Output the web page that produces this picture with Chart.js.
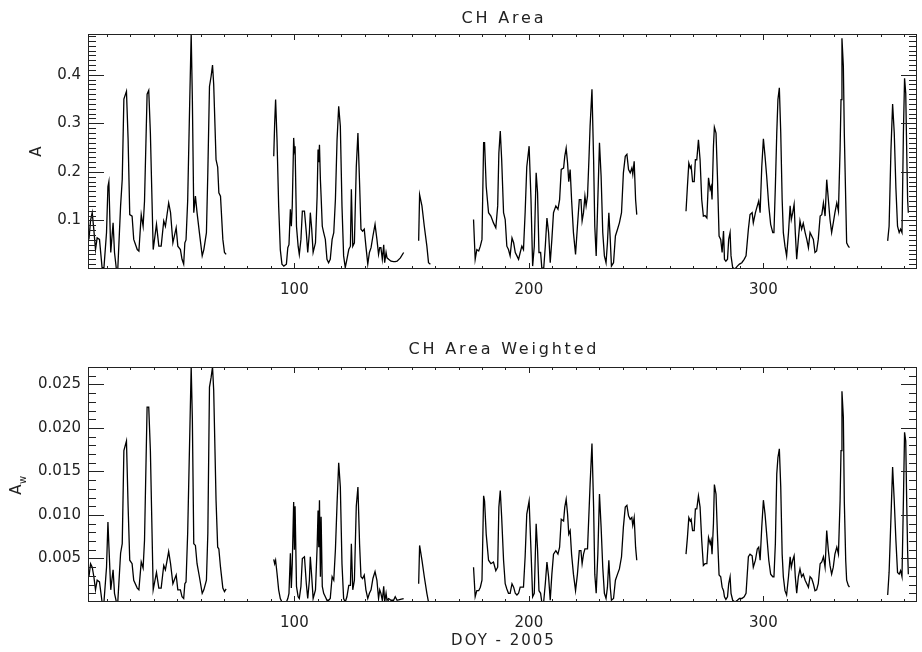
<!DOCTYPE html>
<html>
<head>
<meta charset="utf-8">
<script src="https://cdn.jsdelivr.net/npm/chart.js@4"></script>
<style>
  body { margin: 0; background: #fff; }
  #wrap { position: relative; width: 922px; height: 652px; }
  canvas { position: absolute; left: 0; }
</style>
</head>
<body>
<div id="wrap">
  <canvas id="areaChart" width="922" height="310" style="top:0"></canvas>
  <canvas id="weightChart" width="922" height="342" style="top:310px"></canvas>
</div>
<script>
// Day of year 2005; a null row marks each gap in the record
const days = [
  12.4,13.1,13.8,14.5,15.2,15.9,16.9,18.0,18.8,19.9,20.5,20.9,21.7,22.7,23.3,24.1,24.7,25.9,26.6,27.3,28.4,29.1,29.8,30.8,31.5,33.0,33.7,34.7,35.5,36.1,37.2,37.9,38.6,39.8,41.2,42.2,43.2,44.3,45.0,46.4,47.2,48.2,49.6,50.3,51.4,52.1,52.8,53.3,53.8,54.5,55.4,56.0,56.5,57.1,57.8,58.5,59.5,60.7,61.4,62.5,63.1,63.8,64.5,65.1,65.6,66.6,67.3,67.8,68.5,69.5,70.2,70.9,
  80,
  91.2,91.6,92.0,92.6,93.3,94.0,94.7,95.5,96.6,97.2,97.7,98.3,98.7,99.1,99.7,100.0,100.3,100.9,101.6,102.1,102.8,103.4,104.3,105.1,105.7,106.4,106.8,107.4,108.0,109.0,109.7,110.1,110.4,110.7,111.1,111.4,111.9,112.5,113.2,113.9,114.6,115.3,116.1,116.8,117.5,118.2,118.9,119.6,120.3,121.0,121.7,122.4,123.2,123.9,124.3,124.9,125.6,126.4,127.1,127.8,128.4,129.1,129.8,130.5,131.3,132.0,132.7,133.5,134.4,135.2,135.9,136.4,136.9,137.5,138.1,138.5,139.1,139.5,140.2,141.2,142.3,143.0,143.8,145.2,146.6,
  150,
  153.0,153.4,154.4,155.4,156.5,157.2,158.0,
  165,
  176.4,177.1,177.8,178.6,179.3,180.0,180.7,181.1,181.8,182.8,183.8,184.9,185.9,186.7,187.2,187.8,188.4,189.2,189.9,190.6,191.3,192.0,192.8,193.5,194.2,194.9,195.6,196.3,197.0,197.7,198.4,199.1,200.1,200.9,201.6,202.3,203.1,203.7,204.3,205.0,205.5,206.3,207.0,207.7,208.4,209.1,209.8,210.5,211.5,212.4,213.1,213.8,214.8,215.3,215.9,216.5,217.0,217.6,218.2,219.0,219.9,220.7,221.5,222.2,222.7,223.3,223.9,224.4,225.0,225.6,226.1,226.9,227.6,228.1,228.7,229.4,230.1,230.8,231.5,232.2,232.9,233.5,234.1,234.7,235.2,236.1,236.9,237.8,238.6,239.5,240.3,241.1,241.8,242.5,243.2,243.9,244.3,244.9,245.5,246.0,
  256,
  267.0,267.6,268.2,268.8,269.2,269.8,270.5,271.0,271.6,272.3,273.0,273.7,274.4,275.1,275.9,276.6,277.3,277.7,278.1,278.7,279.1,279.8,280.4,281.1,281.8,282.4,283.0,283.4,284.0,284.7,285.2,285.8,286.2,286.9,287.9,288.9,289.8,290.8,291.8,292.6,293.6,294.3,295.2,295.7,296.6,297.4,298.0,298.6,299.3,300.0,300.7,301.4,302.3,303.1,304.0,304.5,305.1,305.7,306.2,306.8,307.4,308.0,308.5,309.2,309.9,310.7,311.4,311.9,312.5,313.1,313.6,314.2,314.9,315.6,316.3,317.0,317.8,318.5,319.2,319.9,320.6,321.3,322.0,322.7,323.4,324.2,324.9,325.6,326.3,327.0,327.7,328.4,329.1,329.8,330.5,331.3,332.0,332.7,333.1,333.5,334.1,334.5,335.1,335.5,336.2,336.7,
  345,
  353.0,353.6,354.4,355.1,355.8,356.5,357.2,357.9,358.5,359.1,359.7,360.2,360.7,361.1,361.5,361.8
];

// CH area A
const area = [
  0.061,0.1,0.116,0.08,0.04,0.064,0.061,0.003,0.003,0.075,0.17,0.18,0.034,0.095,0.034,0,0,0.13,0.185,0.35,0.366,0.267,0.112,0.109,0.061,0.04,0.037,0.112,0.088,0.14,0.36,0.368,0.28,0.04,0.092,0.047,0.047,0.099,0.088,0.136,0.116,0.054,0.085,0.047,0.04,0.02,0.01,0.054,0.06,0.14,0.35,0.484,0.35,0.116,0.15,0.116,0.075,0.027,0.04,0.075,0.2,0.376,0.397,0.42,0.38,0.225,0.21,0.157,0.15,0.061,0.034,0.03,
  null,
  0.232,0.30,0.349,0.266,0.13,0.04,0.01,0.006,0.01,0.044,0.05,0.123,0.088,0.13,0.27,0.245,0.253,0.088,0.047,0.03,0.061,0.119,0.119,0.075,0.034,0.075,0.116,0.082,0.034,0.054,0.15,0.246,0.22,0.256,0.184,0.15,0.088,0.075,0.061,0.02,0.013,0.02,0.061,0.075,0.143,0.266,0.335,0.294,0.13,0.027,0.003,0.02,0.04,0.047,0.164,0.047,0.054,0.21,0.28,0.177,0.082,0.078,0.082,0.047,0.01,0.034,0.044,0.068,0.092,0.061,0.03,0.044,0.044,0.02,0.05,0.013,0.034,0.023,0.02,0.016,0.015,0.015,0.016,0.023,0.034,
  null,
  0.058,0.153,0.13,0.088,0.047,0.013,0.01,
  null,
  0.102,0.02,0.04,0.037,0.047,0.061,0.26,0.26,0.17,0.116,0.109,0.095,0.085,0.13,0.239,0.284,0.225,0.116,0.102,0.047,0.04,0.027,0.064,0.054,0.034,0.027,0.02,0.034,0.047,0.04,0.116,0.21,0.253,0.143,0.006,0.047,0.198,0.157,0.034,0.034,0.003,0,0.047,0.105,0.075,0.013,0.061,0.116,0.13,0.123,0.143,0.205,0.208,0.232,0.249,0.218,0.18,0.205,0.143,0.075,0.03,0.088,0.143,0.143,0.099,0.116,0.15,0.13,0.15,0.225,0.294,0.37,0.225,0.088,0.027,0.143,0.26,0.191,0.075,0.027,0.013,0.054,0.116,0.061,0.006,0.013,0.068,0.082,0.095,0.116,0.198,0.232,0.236,0.205,0.198,0.208,0.195,0.222,0.143,0.112,
  null,
  0.119,0.17,0.218,0.208,0.212,0.18,0.18,0.225,0.225,0.266,0.225,0.143,0.109,0.11,0.105,0.188,0.164,0.17,0.143,0.253,0.292,0.28,0.191,0.068,0.061,0.034,0.078,0.02,0.016,0.02,0.061,0.075,0.027,0.003,0,0.006,0.01,0.013,0.02,0.027,0.082,0.112,0.116,0.095,0.116,0.13,0.14,0.116,0.21,0.268,0.232,0.191,0.13,0.092,0.075,0.075,0.17,0.28,0.349,0.373,0.28,0.143,0.075,0.047,0.027,0.075,0.13,0.102,0.116,0.133,0.075,0.02,0.061,0.099,0.082,0.094,0.075,0.061,0.044,0.075,0.068,0.061,0.034,0.037,0.061,0.109,0.112,0.136,0.109,0.184,0.143,0.102,0.075,0.095,0.116,0.136,0.119,0.246,0.349,0.475,0.417,0.28,0.143,0.054,0.047,0.044,
  null,
  0.058,0.088,0.246,0.34,0.28,0.167,0.088,0.075,0.082,0.075,0.28,0.393,0.362,0.246,0.143,0.116
];

// CH area weighted A_w
const areaW = [
  0.0029,0.0044,0.004,0.0029,0.0014,0.0025,0.0023,0,0,0.004,0.0092,0.0065,0.0014,0.0037,0.001,0,0,0.0056,0.0067,0.0174,0.0185,0.011,0.0048,0.0044,0.0025,0.0016,0.0014,0.0046,0.0039,0.0071,0.0224,0.0224,0.0174,0.0014,0.0034,0.0016,0.0016,0.0042,0.0037,0.0058,0.0044,0.0021,0.0031,0.0014,0.0014,0.0006,0.0004,0.0021,0.0023,0.0079,0.0193,0.027,0.021,0.0067,0.0065,0.0044,0.0029,0.001,0.0014,0.0025,0.0079,0.0247,0.0258,0.027,0.0243,0.0117,0.0063,0.0061,0.004,0.0016,0.0012,0.0015,
  null,
  0.0049,0.0044,0.0048,0.0033,0.0014,0.0004,0,0,0,0.0004,0.001,0.0056,0.0016,0.0044,0.0115,0.006,0.011,0.0018,0.0006,0.0004,0.0018,0.005,0.0052,0.0021,0.0004,0.0025,0.0052,0.0029,0.0004,0.0014,0.0063,0.0105,0.0063,0.0117,0.0029,0.0098,0.0018,0.001,0.0006,0.0002,0.0002,0.0004,0.0029,0.0025,0.006,0.0113,0.016,0.0132,0.0044,0.0004,0,0.0006,0.0019,0.0019,0.0067,0.0014,0.0025,0.011,0.0132,0.0067,0.0029,0.0027,0.0031,0.0014,0.0004,0.001,0.0014,0.0027,0.0035,0.0025,0.0004,0.0014,0.001,0.0002,0.0018,0,0.001,0.0002,0.0004,0.0002,0.0002,0.0006,0.0002,0.0003,0.0004,
  null,
  0.0021,0.0065,0.0048,0.0029,0.001,0,0,
  null,
  0.004,0.0006,0.0013,0.0013,0.0017,0.0025,0.0122,0.0116,0.0078,0.0048,0.0044,0.0046,0.0036,0.004,0.0109,0.0128,0.0097,0.0048,0.0021,0.0015,0.001,0.001,0.0021,0.0017,0.001,0.0008,0.001,0.0017,0.0017,0.0017,0.0052,0.0101,0.0116,0.0059,0.0006,0.001,0.009,0.006,0.0013,0.001,0,0,0.0021,0.0046,0.0029,0.0002,0.0032,0.0055,0.0059,0.0055,0.0063,0.0095,0.0093,0.0109,0.0118,0.0101,0.0078,0.0082,0.0055,0.0032,0.0013,0.0032,0.0059,0.0059,0.0044,0.0055,0.0061,0.0061,0.0061,0.0101,0.0135,0.0182,0.0109,0.0032,0.001,0.0055,0.0124,0.0086,0.004,0.001,0.0004,0.0017,0.0048,0.0017,0.0002,0.0004,0.0025,0.0032,0.0038,0.0052,0.0086,0.0109,0.0111,0.0099,0.0095,0.0097,0.0088,0.0097,0.0063,0.0048,
  null,
  0.0055,0.0074,0.0097,0.0093,0.0095,0.0082,0.0082,0.0107,0.0107,0.0122,0.0109,0.0071,0.0042,0.0044,0.0044,0.0074,0.0067,0.0071,0.0055,0.009,0.0135,0.0124,0.0078,0.0031,0.0029,0.0017,0.0013,0.0006,0.0003,0.0006,0.0021,0.0029,0.001,0.0002,0,0.0002,0.0004,0.0004,0.0006,0.001,0.0052,0.0055,0.0053,0.004,0.0048,0.0061,0.0063,0.0048,0.0086,0.0117,0.0101,0.0078,0.0048,0.0032,0.0029,0.0029,0.0067,0.0147,0.0166,0.0176,0.0132,0.0055,0.0029,0.0013,0.0008,0.0029,0.0052,0.004,0.0048,0.0053,0.0029,0.001,0.0029,0.0038,0.0029,0.0032,0.0025,0.0021,0.0017,0.0029,0.0027,0.0021,0.0013,0.0014,0.0021,0.0044,0.0046,0.0052,0.004,0.0082,0.0059,0.0042,0.0032,0.004,0.0055,0.0063,0.0055,0.0116,0.0174,0.0242,0.0212,0.0116,0.0048,0.0025,0.0019,0.0017,
  null,
  0.0008,0.0034,0.0097,0.0155,0.0116,0.0071,0.0034,0.0032,0.0036,0.0029,0.0116,0.0195,0.0185,0.0116,0.0059,0.0032
];

const xTicks = [100, 200, 300];
const areaTicks = [0.1, 0.2, 0.3, 0.4];
const areaTickLabels = ['0.1', '0.2', '0.3', '0.4'];
const weightTicks = [0.005, 0.010, 0.015, 0.020, 0.025];
const weightTickLabels = ['0.005', '0.010', '0.015', '0.020', '0.025'];

const FONT = '"DejaVu Sans", sans-serif';
const INK = '#222';

// IDL style box: frame, inward ticks on all four sides, and the wide-spaced titles
const idlFrame = {
  id: 'idlFrame',
  afterDatasetsDraw(chart, args, o) {
    const {ctx, chartArea: a} = chart;
    const x = chart.scales.x, y = chart.scales.y;
    const midX = (a.left + a.right) / 2;
    ctx.save();
    ctx.strokeStyle = INK;
    ctx.lineWidth = 1;
    ctx.strokeRect(a.left + 0.5, a.top + 0.5, a.width - 1, a.height - 1);
    ctx.beginPath();
    for (let v = Math.ceil(x.min / 10) * 10; v <= x.max; v += 10) {
      const px = Math.round(x.getPixelForValue(v)) + 0.5;
      const len = v % 100 === 0 ? 6 : 3;
      ctx.moveTo(px, a.bottom); ctx.lineTo(px, a.bottom - len);
      ctx.moveTo(px, a.top); ctx.lineTo(px, a.top + len);
    }
    for (let k = 1; k * o.minor <= y.max + 1e-12; k++) {
      const py = Math.round(y.getPixelForValue(k * o.minor)) + 0.5;
      const len = k % o.every === 0 ? 16 : 8;
      ctx.moveTo(a.left, py); ctx.lineTo(a.left + len, py);
      ctx.moveTo(a.right, py); ctx.lineTo(a.right - len, py);
    }
    ctx.stroke();

    ctx.fillStyle = INK;
    ctx.textBaseline = 'middle';
    ctx.textAlign = 'center';
    ctx.letterSpacing = '2.8px';
    ctx.font = '16px ' + FONT;
    ctx.fillText(o.title, midX + 1.4, o.titleY);
    if (o.xTitle) {
      ctx.letterSpacing = '2px';
      ctx.font = '15px ' + FONT;
      ctx.fillText(o.xTitle, midX + 1, o.xTitleY);
    }
    ctx.letterSpacing = '0px';

    ctx.translate(o.yTitleX, (a.top + a.bottom) / 2);
    ctx.rotate(-Math.PI / 2);
    ctx.font = '15px ' + FONT;
    ctx.fillText(o.yTitle, o.ySub ? -5 : 0, 0);
    if (o.ySub) {
      ctx.font = '10px ' + FONT;
      ctx.textAlign = 'left';
      ctx.fillText(o.ySub, 0.5, 6);
    }
    ctx.restore();
  }
};

function makeChart(id, cfg) {
  return new Chart(document.getElementById(id), {
    type: 'line',
    data: {
      datasets: [{
        data: days.map((d, i) => ({x: d, y: cfg.values[i]})),
        borderColor: '#000',
        borderWidth: 1.3,
        pointRadius: 0,
        tension: 0,
        spanGaps: false
      }]
    },
    options: {
      responsive: false,
      animation: false,
      layout: { padding: { left: 0, right: 5, top: cfg.top, bottom: 0 } },
      plugins: {
        legend: { display: false },
        tooltip: { enabled: false },
        title: { display: false },
        idlFrame: cfg.frame
      },
      scales: {
        x: {
          type: 'linear',
          min: 12,
          max: 365.5,
          grid: { display: false, drawTicks: false },
          border: { display: false },
          afterBuildTicks: s => { s.ticks = xTicks.map(v => ({value: v})); },
          afterFit: s => { s.height = cfg.xHeight; },
          ticks: { color: INK, font: { family: FONT, size: 15 }, padding: 12, maxRotation: 0, callback: v => String(v) }
        },
        y: {
          type: 'linear',
          min: 0,
          max: cfg.yMax,
          grid: { display: false, drawTicks: false },
          border: { display: false },
          afterBuildTicks: s => { s.ticks = cfg.ticks.map(v => ({value: v})); },
          afterFit: s => { s.width = 88; },
          ticks: { color: INK, font: { family: FONT, size: 15 }, padding: 7, callback: (v, i) => cfg.labels[i] }
        }
      }
    },
    plugins: [idlFrame]
  });
}

makeChart('areaChart', {
  values: area,
  top: 34,
  yMax: 0.484,
  ticks: areaTicks,
  labels: areaTickLabels,
  xHeight: 41,
  frame: { minor: 0.01, every: 10, title: 'CH Area', titleY: 19, yTitle: 'A', ySub: '', yTitleX: 37 }
});

makeChart('weightChart', {
  values: areaW,
  top: 57,
  yMax: 0.027,
  ticks: weightTicks,
  labels: weightTickLabels,
  xHeight: 50,
  frame: { minor: 0.001, every: 5, title: 'CH Area Weighted', titleY: 40, xTitle: 'DOY - 2005', xTitleY: 331, yTitle: 'A', ySub: 'w', yTitleX: 17 }
});
</script>
</body>
</html>
